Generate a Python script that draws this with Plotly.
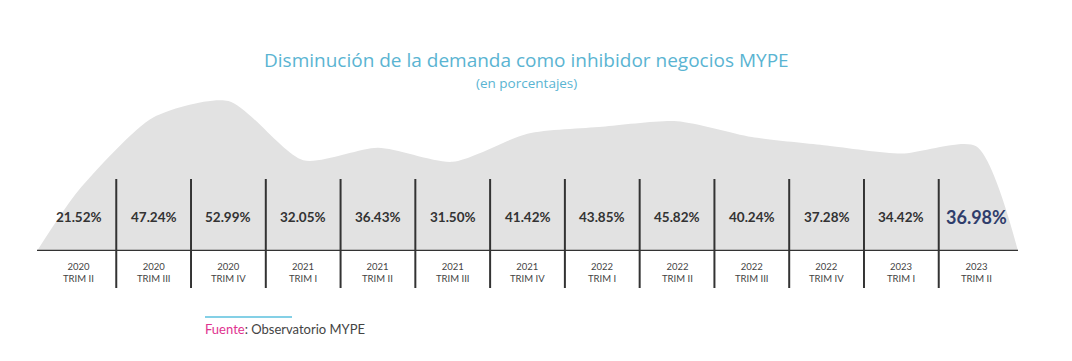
import plotly.graph_objects as go

categories = ["2020<br>TRIM II", "2020<br>TRIM III", "2020<br>TRIM IV", "2021<br>TRIM I",
              "2021<br>TRIM II", "2021<br>TRIM III", "2021<br>TRIM IV", "2022<br>TRIM I",
              "2022<br>TRIM II", "2022<br>TRIM III", "2022<br>TRIM IV", "2023<br>TRIM I",
              "2023<br>TRIM II"]
values = [21.52, 47.24, 52.99, 32.05, 36.43, 31.50, 41.42, 43.85, 45.82, 40.24, 37.28, 34.42, 36.98]
value_labels = ["21.52%", "47.24%", "52.99%", "32.05%", "36.43%", "31.50%", "41.42%",
                "43.85%", "45.82%", "40.24%", "37.28%", "34.42%", "36.98%"]

title_text = "Disminución de la demanda como inhibidor negocios MYPE"
subtitle_text = "(en porcentajes)"
source_label = "Fuente"
source_text = "Observatorio MYPE"

n = len(values)
x_idx = list(range(n))
x_lo, x_hi = -0.56, n - 1 + 0.56

W, H = 1072, 361
OFF = 8  # page body margin
ml = 37 - OFF
mr = W - (1018 - OFF)
mt = 95 - OFF
base_y = 251 - OFF
mb = H - base_y
plot_h = H - mt - mb
plot_w = W - ml - mr


def px_x(x):
    return (x - OFF - ml) / plot_w


def px_y(y):
    return (base_y - (y - OFF)) / plot_h


FONT = "Lato"
DARK = "#333333"

fig = go.Figure()

fig.add_trace(go.Scatter(
    x=[x_lo] + x_idx + [x_hi],
    y=[0] + values + [0],
    mode="lines",
    line=dict(shape="spline", smoothing=0.7, width=0, color="#e2e2e2"),
    fill="tozeroy",
    fillcolor="#e2e2e2",
    hoverinfo="skip",
    showlegend=False,
))

shapes = []
shapes.append(dict(type="line", xref="x", yref="y", x0=x_lo, x1=x_hi, y0=0, y1=0,
                   line=dict(color=DARK, width=2.5)))
for i in range(n - 1):
    shapes.append(dict(type="line", xref="x", yref="paper", x0=i + 0.5, x1=i + 0.5,
                       y0=px_y(288), y1=px_y(179),
                       line=dict(color=DARK, width=2)))
shapes.append(dict(type="line", xref="paper", yref="paper",
                   x0=px_x(205), x1=px_x(292), y0=px_y(317), y1=px_y(317),
                   line=dict(color="#5bc0de", width=1.5)))

annotations = []
for i, lab in enumerate(value_labels):
    last = i == n - 1
    annotations.append(dict(
        x=i, y=px_y(217), xref="x", yref="paper", text=lab, showarrow=False,
        xanchor="center", yanchor="middle",
        font=dict(family=FONT, size=18 if last else 13.5,
                  color="#2f3d6b" if last else DARK, weight="bold")))
for i, c in enumerate(categories):
    annotations.append(dict(
        x=i, y=px_y(259), xref="x", yref="paper", text=c, showarrow=False,
        xanchor="center", yanchor="top",
        font=dict(family=FONT, size=9.5, color="#444444")))

annotations.append(dict(
    x=px_x(526), y=px_y(74), xref="paper", yref="paper",
    text=title_text, showarrow=False, xanchor="center", yanchor="bottom",
    borderpad=0,
    font=dict(family="Open Sans", size=19, color="#5ab4d2")))
annotations.append(dict(
    x=px_x(526), y=px_y(72.5), xref="paper", yref="paper",
    text=subtitle_text, showarrow=False, xanchor="center", yanchor="top",
    borderpad=0,
    font=dict(family="Open Sans", size=13.5, color="#5ab4d2")))
annotations.append(dict(
    x=px_x(203), y=px_y(329), xref="paper", yref="paper",
    text=f"<span style='color:#e0338f'>{source_label}</span>: {source_text}",
    showarrow=False, xanchor="left", yanchor="middle",
    font=dict(family=FONT, size=13, color="#444444")))

fig.update_layout(
    width=W, height=H,
    margin=dict(l=ml, r=mr, t=mt, b=mb),
    paper_bgcolor="white", plot_bgcolor="white",
    xaxis=dict(range=[x_lo, x_hi], visible=False, fixedrange=True),
    yaxis=dict(range=[0, 55.1], visible=False, fixedrange=True),
    shapes=shapes, annotations=annotations,
    showlegend=False, hovermode=False,
)

fig.write_html("out.html")
